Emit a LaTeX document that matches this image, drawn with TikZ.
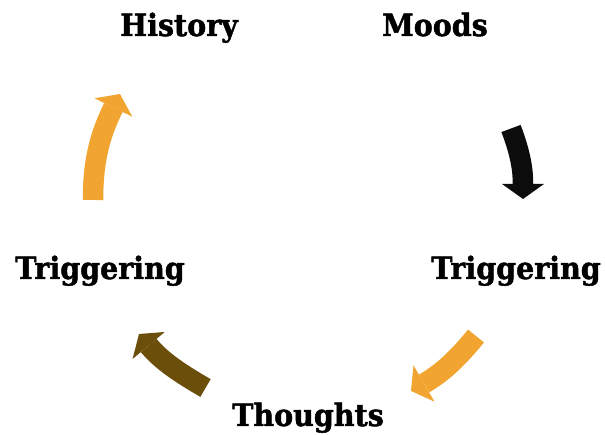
\documentclass[tikz,border=0pt]{standalone}
\usepackage{fontspec}
\setmainfont{DejaVu Serif}[BoldFeatures={FakeBold=1.6}]
\usetikzlibrary{arrows.meta}
\definecolor{cycorange}{RGB}{241,165,48}
\definecolor{cycbrown}{RGB}{106,78,10}
\definecolor{cycblack}{RGB}{12,12,12}
\tikzset{
  lbl/.style={anchor=base,inner sep=0pt,yscale=1.08,font=\bfseries\fontsize{28.5}{34}\selectfont},
  curvarrow/.style={line width=20.5pt,-{Triangle[length=15pt,width=42pt,line width=0pt]}}
}
\begin{document}
\begin{tikzpicture}[x=1pt,y=1pt,line join=miter]
\useasboundingbox (0,0) rectangle (605,435);
\node[lbl] (hist) at (179,399) {History};
\node[lbl] (moods) at (435,399) {Moods};
\node[lbl] (trigR) at (516,156) {Triggering};
\node[lbl] (thou) at (308,9) {Thoughts};
\node[lbl] (trigL) at (100,156) {Triggering};
\path
(511,306.5) coordinate (bs) (523,236) coordinate (bt)
(476,99) coordinate (os) (411,44) coordinate (ot)
(205.5,47) coordinate (ws) (139,101) coordinate (wt)
(93,235) coordinate (ls) (120,341) coordinate (lt)
;
\draw[curvarrow,cycblack] (bs) to[out=-69,in=90] (bt);
\draw[curvarrow,cycorange] (os) to[out=231,in=30] (ot);
\draw[curvarrow,cycbrown] (ws) to[out=150,in=310] (wt);
\draw[curvarrow,cycorange] (ls) to[out=90,in=244] (lt);
\end{tikzpicture}
\end{document}
